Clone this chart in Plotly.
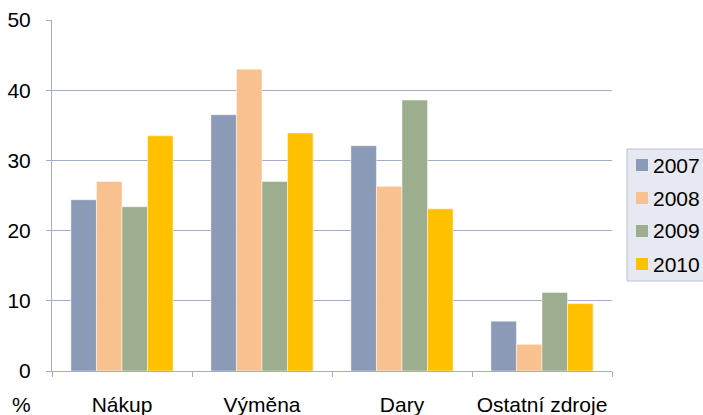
import plotly.graph_objects as go

categories = ["Nákup", "Výměna", "Dary", "Ostatní zdroje"]
years = ["2007", "2008", "2009", "2010"]
v2007 = [24.4, 36.5, 32.1, 7.1]
v2008 = [27.0, 43.0, 26.3, 3.8]
v2009 = [23.4, 27.0, 38.6, 11.2]
v2010 = [33.5, 33.9, 23.1, 9.6]
series = [v2007, v2008, v2009, v2010]
colors = ["#8B9AB6", "#F9C090", "#9CAE8D", "#FFC000"]
y_ticks = [0, 10, 20, 30, 40, 50]

FONT = "Liberation Sans, Arial, sans-serif"
GRID = "#A3ADCB"
FS = 21

W, H = 703, 415
ML, MR, MT, MB = 52, 91, 20, 44
PW, PH = W - ML - MR, H - MT - MB


def px(x):
    return (x - ML) / PW


def py(y):
    return (H - MB - y) / PH


fig = go.Figure()
for name, vals, col in zip(years, series, colors):
    fig.add_trace(go.Bar(
        x=categories, y=vals, name=name, showlegend=False,
        marker=dict(color=col, line=dict(color="rgba(255,255,255,0.6)", width=0.8)),
    ))

# legend drawn by hand (box, swatches, labels)
fig.add_shape(type="rect", xref="paper", yref="paper",
              x0=px(627), x1=px(708), y0=py(281), y1=py(149),
              fillcolor="#E6E9F1", line=dict(color="#B8C0D6", width=1), layer="above")
for i, (name, col) in enumerate(zip(years, colors)):
    cy = 165 + i * 33
    fig.add_shape(type="rect", xref="paper", yref="paper",
                  x0=px(636), x1=px(648), y0=py(cy + 6), y1=py(cy - 6),
                  fillcolor=col, line=dict(width=0), layer="above")
    fig.add_annotation(text=name, xref="paper", yref="paper",
                       x=px(651), y=py(cy), xanchor="left", yanchor="middle",
                       showarrow=False, font=dict(family=FONT, size=FS, color="black"))

fig.update_layout(
    width=W, height=H,
    margin=dict(l=ML, r=MR, t=MT, b=MB, autoexpand=False),
    paper_bgcolor="white", plot_bgcolor="white",
    barmode="group", bargap=0.27, bargroupgap=0,
    font=dict(family=FONT, size=FS, color="black"),
    showlegend=False,
    xaxis=dict(
        showline=True, linecolor=GRID, linewidth=1,
        ticks="outside", tickson="boundaries", ticklen=5, tickcolor=GRID,
        showgrid=False, ticklabelstandoff=15, automargin=False,
        tickfont=dict(family=FONT, size=FS, color="black"),
    ),
    yaxis=dict(
        range=[0, 50], tickvals=y_ticks,
        showline=True, linecolor=GRID, linewidth=1,
        ticks="outside", ticklen=5, tickcolor=GRID,
        showgrid=True, gridcolor=GRID, gridwidth=1,
        zeroline=False, automargin=False, ticklabelstandoff=11,
        tickfont=dict(family=FONT, size=FS, color="black"),
    ),
)

fig.add_annotation(
    text="%", xref="paper", yref="paper", x=px(21), y=py(404),
    xanchor="center", yanchor="middle", showarrow=False,
    font=dict(family=FONT, size=FS, color="black"),
)

fig.write_html(
    "out.html",
    config={"displayModeBar": False},
    post_script="document.body.style.margin='0';document.body.style.overflow='hidden';",
)
